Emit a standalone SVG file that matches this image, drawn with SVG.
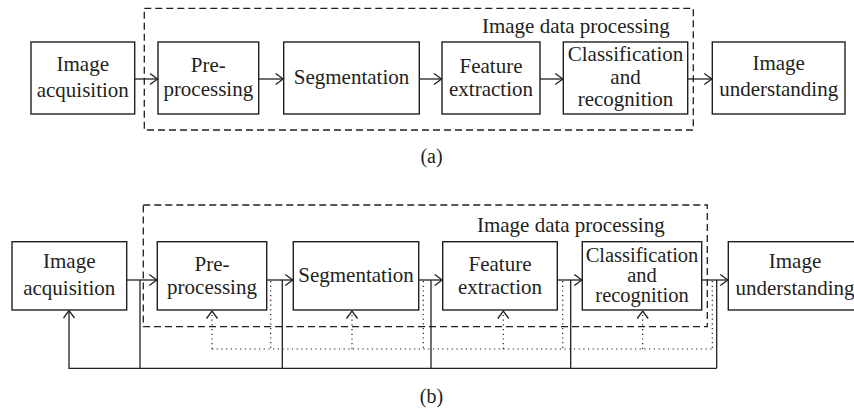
<svg xmlns="http://www.w3.org/2000/svg" width="854" height="412" viewBox="0 0 854 412">
<style>
  text{font-family:'Liberation Serif','Times New Roman','DejaVu Serif',serif;font-size:21px;fill:#231f20;text-anchor:middle}
  .box{fill:#fff;stroke:#231f20;stroke-width:1.4}
  .dash{fill:none;stroke:#231f20;stroke-width:1.3;stroke-dasharray:7 4}
  .ln{fill:none;stroke:#231f20;stroke-width:1.3}
  .dot{fill:none;stroke:#231f20;stroke-width:1.2;stroke-dasharray:1.2 3.5}
  .lbl{font-size:20px}
  .sm{font-size:20.5px}
</style>
<defs>
  <marker id="ah" markerUnits="userSpaceOnUse" markerWidth="12" markerHeight="14" refX="8" refY="6" orient="auto" overflow="visible">
    <path d="M0.5,0.5 L8,6 L0.5,11.5" fill="none" stroke="#231f20" stroke-width="1.3"/>
  </marker>
</defs>

<!-- (a) -->
<g id="a-group">
  <rect class="dash" x="144.3" y="8.3" width="549" height="121.7"/>
  <text x="575.8" y="33">Image data processing</text>
</g>
<g id="a-acq"><rect class="box" x="31" y="42" width="103.7" height="72"/><text x="82.8" y="70.7">Image</text><text x="82.8" y="96.7">acquisition</text></g>
<g id="a-pre"><rect class="box" x="158" y="42" width="100.7" height="72"/><text x="208.3" y="71.7">Pre-</text><text x="208.3" y="95.7">processing</text></g>
<g id="a-seg"><rect class="box" x="283.7" y="42" width="135.6" height="72"/><text x="351.5" y="84">Segmentation</text></g>
<g id="a-fe"><rect class="box" x="442" y="42" width="98" height="72"/><text x="491" y="72.7">Feature</text><text x="491" y="95.7">extraction</text></g>
<g id="a-cr"><rect class="box" x="563.3" y="42" width="124.4" height="72"/><text x="625.5" y="61">Classification</text><text x="625.5" y="83.5">and</text><text x="625.5" y="106">recognition</text></g>
<g id="a-iu"><rect class="box" x="712.3" y="42" width="132.7" height="72"/><text x="778.7" y="70">Image</text><text x="778.7" y="96">understanding</text></g>
<g id="a-connectors">
  <path class="ln" d="M134.7,79 H157.5" marker-end="url(#ah)"/>
  <path class="ln" d="M258.7,79 H283.2" marker-end="url(#ah)"/>
  <path class="ln" d="M419.3,79 H441.5" marker-end="url(#ah)"/>
  <path class="ln" d="M540,79 H562.8" marker-end="url(#ah)"/>
  <path class="ln" d="M687.7,79 H711.8" marker-end="url(#ah)"/>
</g>
<text class="lbl" x="431.5" y="163">(a)</text>

<!-- (b) -->
<g id="b-group">
  <rect class="dash" x="143.3" y="205" width="564" height="121.7"/>
  <text x="570.8" y="232.3">Image data processing</text>
</g>
<g id="b-acq"><rect class="box" x="12" y="241.7" width="114.7" height="68.3"/><text x="69.3" y="267.5">Image</text><text x="69.3" y="294.5">acquisition</text></g>
<g id="b-pre"><rect class="box" x="157.3" y="241.7" width="109.4" height="68.3"/><text x="212" y="270.7">Pre-</text><text x="212" y="293.5">processing</text></g>
<g id="b-seg"><rect class="box" x="293.3" y="241.7" width="125.4" height="68.3"/><text x="356" y="281.7">Segmentation</text></g>
<g id="b-fe"><rect class="box" x="442.7" y="241.7" width="114.6" height="68.3"/><text x="500" y="270.7">Feature</text><text x="500" y="293.5">extraction</text></g>
<g id="b-cr"><rect class="box" x="582.3" y="241.7" width="119.4" height="68.3"/><text class="sm" x="642" y="261.5">Classification</text><text class="sm" x="642" y="281.5">and</text><text class="sm" x="642" y="301.5">recognition</text></g>
<g id="b-iu"><rect class="box" x="728.3" y="241.7" width="134" height="68.3"/><text x="795" y="267.5">Image</text><text x="795" y="294.5">understanding</text></g>
<g id="b-connectors">
  <path class="ln" d="M126.7,280 H156.8" marker-end="url(#ah)"/>
  <path class="ln" d="M266.7,280 H292.8" marker-end="url(#ah)"/>
  <path class="ln" d="M418.7,280 H442.2" marker-end="url(#ah)"/>
  <path class="ln" d="M557.3,280 H581.8" marker-end="url(#ah)"/>
  <path class="ln" d="M701.7,280 H727.8" marker-end="url(#ah)"/>
  <path class="ln" d="M140,280 V368.3"/>
  <path class="ln" d="M282.3,280 V368.3"/>
  <path class="ln" d="M431,280 V368.3"/>
  <path class="ln" d="M570.7,280 V368.3"/>
  <path class="ln" d="M716.7,280 V368.3"/>
  <path class="ln" d="M716.7,368.3 H69 V310.5" marker-end="url(#ah)"/>
  <path class="dot" d="M270.7,281 V349"/>
  <path class="dot" d="M423.3,281 V349"/>
  <path class="dot" d="M562.7,281 V349"/>
  <path class="dot" d="M712.3,281 V349"/>
  <path class="dot" d="M212,349 H712.3"/>
  <path class="dot" d="M212,349 V311" marker-end="url(#ah)"/>
  <path class="dot" d="M352,349 V311" marker-end="url(#ah)"/>
  <path class="dot" d="M503.3,349 V311" marker-end="url(#ah)"/>
  <path class="dot" d="M642.7,349 V311" marker-end="url(#ah)"/>
</g>
<text class="lbl" x="431.5" y="403">(b)</text>
</svg>
